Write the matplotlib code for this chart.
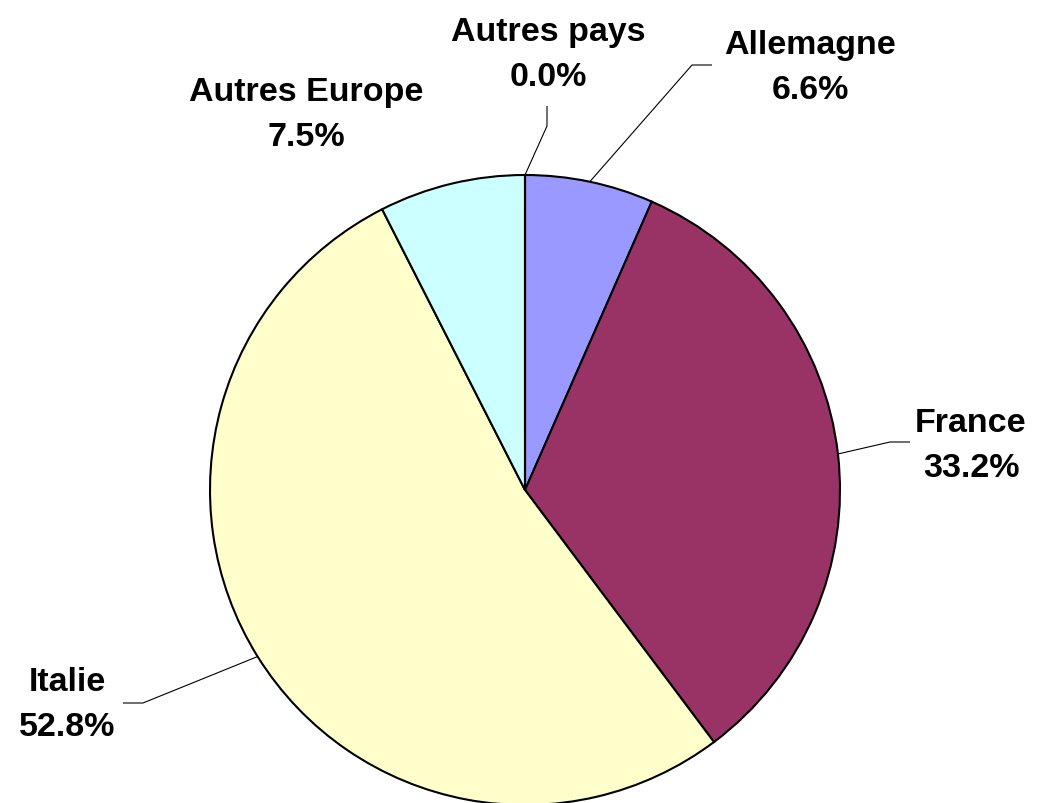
import numpy as np
import matplotlib
matplotlib.use("Agg")
import matplotlib.pyplot as plt

# Pie data (clockwise from 12 o'clock)
countries = ["Allemagne", "France", "Italie", "Autres Europe", "Autres pays"]
shares = [6.6, 33.2, 52.8, 7.5, 0.0]
colors = ["#9999FF", "#993366", "#FFFFCC", "#CCFFFF", "#FFFFFF"]

W, H = 1043, 804
fig = plt.figure(figsize=(W / 100, H / 100), dpi=100)
ax = fig.add_axes([0, 0, 1, 1])
ax.set_xlim(0, W)
ax.set_ylim(0, H)
ax.axis("off")

cx, cy, r = 525, H - 491, 315

wedges, _ = ax.pie(shares, colors=colors, startangle=90, counterclock=False,
                   center=(cx, cy), radius=r, normalize=True,
                   wedgeprops=dict(edgecolor="black", linewidth=1.5))
ax.set_xlim(0, W)
ax.set_ylim(0, H)
ax.set_aspect("equal")

# label layout in pixel coordinates (from top-left): text centre, elbow, line end
layout = {
    "Allemagne": ((810, 68), (692, 66), (712, 66)),
    "France": ((971, 446), (890, 443), (910, 443)),
    "Italie": ((67, 705), (143, 704), (123, 704)),
    "Autres Europe": ((306, 115), None, None),
    "Autres pays": ((548, 55), (547, 127), (547, 107)),
}

for w, name, val in zip(wedges, countries, shares):
    (tx, ty), elbow, end = layout[name]
    ax.text(tx, H - ty, f"{name}\n{val:.1f}%", ha="center", va="center",
            fontsize=24.5, fontweight="bold", family="Liberation Sans",
            linespacing=1.55)
    if elbow is None:
        continue
    ang = np.deg2rad((w.theta1 + w.theta2) / 2)
    px, py = cx + r * np.cos(ang), cy + r * np.sin(ang)
    ax.plot([px, elbow[0], end[0]], [py, H - elbow[1], H - end[1]],
            color="black", lw=0.8, solid_capstyle="butt")

fig.savefig("out.png", dpi=100)
